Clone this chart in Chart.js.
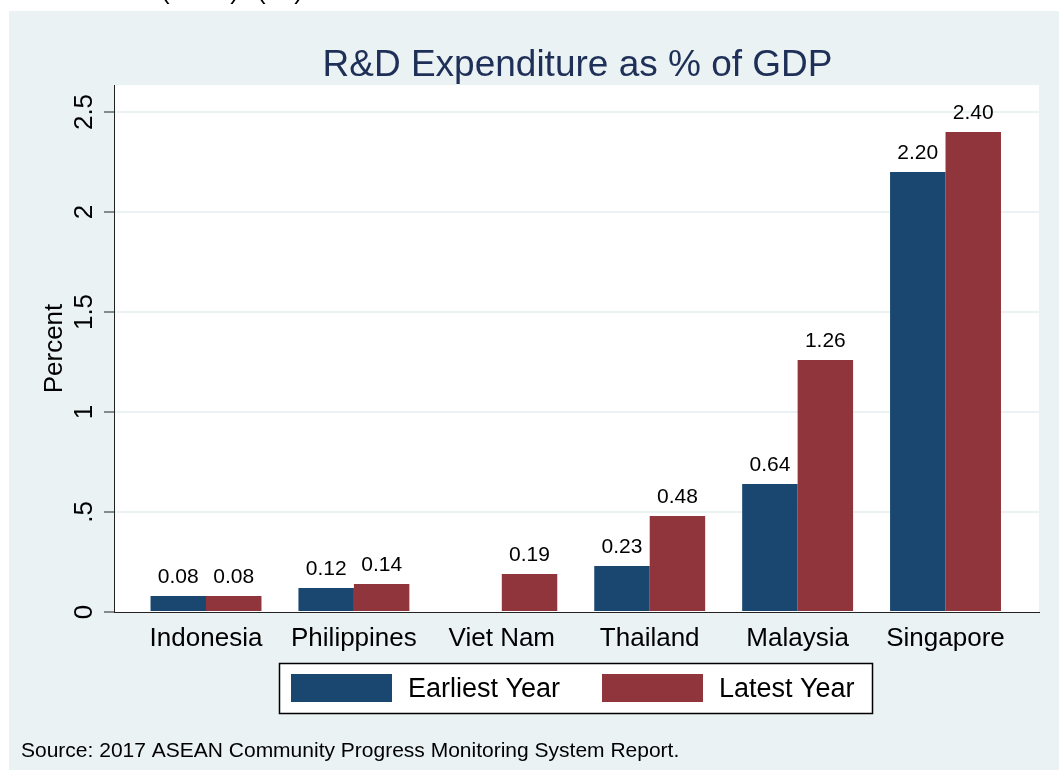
<!DOCTYPE html>
<html>
<head>
<meta charset="utf-8">
<title>R&amp;D Expenditure as % of GDP</title>
<script src="https://cdn.jsdelivr.net/npm/chart.js@4.4.1/dist/chart.umd.min.js"></script>
<style>
  html, body { margin: 0; padding: 0; background: #fff; }
  #wrap { position: relative; width: 1059px; height: 770px; }
</style>
</head>
<body>
<div id="wrap"><canvas id="chart"></canvas></div>
<script>
// data
const countries = ['Indonesia', 'Philippines', 'Viet Nam', 'Thailand', 'Malaysia', 'Singapore'];
const earliestYear = [0.08, 0.12, null, 0.23, 0.64, 2.20];
const latestYear = [0.08, 0.14, 0.19, 0.48, 1.26, 2.40];
const seriesNames = ['Earliest Year', 'Latest Year'];
const yTickValues = [0, 0.5, 1, 1.5, 2, 2.5];
const yTickLabels = ['0', '.5', '1', '1.5', '2', '2.5'];
const chartTitle = 'R&D Expenditure as % of GDP';
const yTitle = 'Percent';
const sourceNote = 'Source: 2017 ASEAN Community Progress Monitoring System Report.';

const FONT = '"Liberation Sans", Arial, sans-serif';
const BG = '#eaf2f3';
const BLUE = '#1a476f';
const RED = '#90353b';

function toPoints(values) {
    return values.map((v, i) => ({ x: i, y: v }));
}

// panel + white plot region
const backgroundPlugin = {
    id: 'stataBackground',
    beforeDraw(chart) {
        const ctx = chart.ctx;
        const a = chart.chartArea;
        ctx.save();
        ctx.fillStyle = BG;
        ctx.fillRect(9, 11, chart.width - 9, chart.height - 11);
        ctx.fillStyle = '#ffffff';
        ctx.fillRect(a.left, a.top, a.right - a.left, a.bottom - a.top);
        ctx.restore();
    }
};

// numbers over the bars
const valueLabelPlugin = {
    id: 'valueLabels',
    afterDatasetsDraw(chart) {
        const ctx = chart.ctx;
        ctx.save();
        ctx.font = '21px ' + FONT;
        ctx.fillStyle = '#000';
        ctx.textAlign = 'center';
        ctx.textBaseline = 'alphabetic';
        chart.data.datasets.forEach((ds, di) => {
            const meta = chart.getDatasetMeta(di);
            meta.data.forEach((bar, i) => {
                const v = ds.data[i].y;
                if (v === null || v === undefined) return;
                ctx.fillText(v.toFixed(2), bar.x, bar.y - 13);
            });
        });
        ctx.restore();
    }
};

// title, y labels, legend, note
const textPlugin = {
    id: 'stataText',
    afterDraw(chart) {
        const ctx = chart.ctx;
        const a = chart.chartArea;
        const yScale = chart.scales.y;
        const midX = (a.left + a.right) / 2;
        ctx.save();

        // cut-off line above the graph
        ctx.fillStyle = '#000';
        ctx.font = '26px ' + FONT;
        ctx.textBaseline = 'alphabetic';
        ctx.textAlign = 'left';
        ctx.fillText('(', 161, -1);
        ctx.fillText('(', 257, -1);
        ctx.textAlign = 'right';
        ctx.fillText(')', 239, -1);
        ctx.fillText(')', 303, -1);

        // title
        ctx.fillStyle = '#1e2f58';
        ctx.font = '37px ' + FONT;
        ctx.textAlign = 'center';
        ctx.fillText(chartTitle, midX + 1, 76);

        // y tick labels, turned
        ctx.fillStyle = '#000';
        ctx.font = '26px ' + FONT;
        yScale.ticks.forEach(t => {
            const idx = yTickValues.indexOf(t.value);
            if (idx < 0) return;
            const py = yScale.getPixelForValue(t.value);
            ctx.save();
            ctx.translate(92, py);
            ctx.rotate(-Math.PI / 2);
            ctx.textAlign = 'center';
            ctx.fillText(yTickLabels[idx], 0, 0);
            ctx.restore();
        });

        // y title
        ctx.save();
        ctx.translate(62, (a.top + a.bottom) / 2);
        ctx.rotate(-Math.PI / 2);
        ctx.textAlign = 'center';
        ctx.fillText(yTitle, 0, 0);
        ctx.restore();

        // legend
        ctx.fillStyle = '#fff';
        ctx.fillRect(279.5, 663.5, 593, 50);
        ctx.strokeStyle = '#000';
        ctx.lineWidth = 1.5;
        ctx.strokeRect(279.5, 663.5, 593, 50);
        const keyX = [291, 602];
        ctx.font = '27px ' + FONT;
        chart.data.datasets.forEach((ds, i) => {
            ctx.fillStyle = ds.backgroundColor;
            ctx.fillRect(keyX[i], 674, 101, 28);
            ctx.fillStyle = '#000';
            ctx.textAlign = 'left';
            ctx.textBaseline = 'middle';
            ctx.fillText(ds.label, keyX[i] + 117, 690);
        });

        // source
        ctx.textBaseline = 'alphabetic';
        ctx.font = '21px ' + FONT;
        ctx.fillText(sourceNote, 21, 757);
        ctx.restore();
    }
};

function CreateChart() {
    const config = {
        type: 'bar',
        data: {
            datasets: [{
                label: seriesNames[0],
                data: toPoints(earliestYear),
                backgroundColor: BLUE,
                borderWidth: 0
            }, {
                label: seriesNames[1],
                data: toPoints(latestYear),
                backgroundColor: RED,
                borderWidth: 0
            }]
        },
        options: {
            responsive: true,
            maintainAspectRatio: false,
            animation: false,
            layout: {
                padding: { left: 0, right: 20, top: 85, bottom: 108 }
            },
            plugins: {
                legend: { display: false },
                title: { display: false },
                tooltip: { enabled: false }
            },
            datasets: {
                bar: { barPercentage: 1.0, categoryPercentage: 0.75 }
            },
            scales: {
                x: {
                    type: 'linear',
                    offset: false,
                    min: -0.622,
                    max: 5.632,
                    afterBuildTicks: (scale) => {
                        scale.ticks = countries.map((c, i) => ({ value: i }));
                    },
                    afterFit: (scale) => { scale.height = 50; },
                    grid: { display: false, drawTicks: false },
                    border: { display: true, color: '#222', width: 1 },
                    ticks: {
                        autoSkip: false,
                        maxRotation: 0,
                        padding: 11,
                        color: '#000',
                        font: { family: FONT, size: 26 },
                        callback: (v) => countries[v]
                    }
                },
                y: {
                    min: 0,
                    max: 2.635,
                    afterBuildTicks: (scale) => {
                        scale.ticks = yTickValues.map(v => ({ value: v }));
                    },
                    afterFit: (scale) => { scale.width = 114; },
                    grid: {
                        color: (c) => c.tick && c.tick.value === 0 ? 'rgba(0,0,0,0)' : BG,
                        lineWidth: 2,
                        drawTicks: true,
                        tickLength: 10,
                        tickColor: '#222',
                        tickWidth: 1
                    },
                    border: { display: true, color: '#222', width: 1 },
                    ticks: { display: false }
                }
            }
        },
        plugins: [backgroundPlugin, valueLabelPlugin, textPlugin]
    };
    const canvas = document.getElementById('chart');
    return new Chart(canvas.getContext('2d'), config);
}

document.addEventListener('DOMContentLoaded', () => {
    CreateChart();
});
</script>
</body>
</html>
